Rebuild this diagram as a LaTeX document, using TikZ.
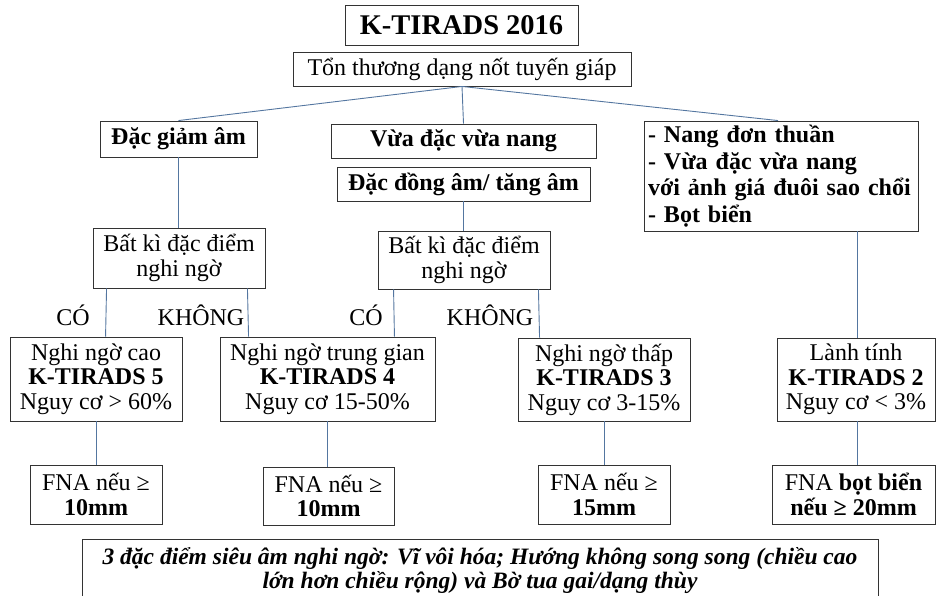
\documentclass[tikz,border=0pt]{standalone}
\usepackage{fontspec}
\setmainfont{Liberation Serif}
\usetikzlibrary{positioning}
\definecolor{linkblue}{RGB}{84,118,160}
\begin{document}
\begin{tikzpicture}[x=1pt,y=-1pt,
  box/.style={draw=black!80,line width=0.9pt,align=center,inner sep=2pt,font=\fontsize{24}{24.5}\selectfont},
  boldbox/.style={box,font=\fontsize{24}{26.5}\selectfont\bfseries},
  link/.style={draw=linkblue,line width=0.9pt},
  tag/.style={inner sep=0pt,font=\fontsize{24}{24}\selectfont}]
\useasboundingbox (0,0) rectangle (936,596);
\node[box,minimum width=233,minimum height=40,font=\fontsize{28.5}{30}\selectfont\bfseries] (title) at (461.5,25) {K-TIRADS 2016};
\node[box,minimum width=338,minimum height=34] (lesion) at (462,69) {Tổn thương dạng nốt tuyến giáp};
\node[boldbox,minimum width=157,minimum height=36] (hypo) at (178.5,139) {Đặc giảm âm};
\node[boldbox,minimum width=265,minimum height=34] (mixed) at (463.5,141) {Vừa đặc vừa nang};
\node[boldbox,minimum width=253,minimum height=34] (iso) at (463.5,184) {Đặc đồng âm/ tăng âm};
\node[boldbox,align=left,text width=266,inner xsep=4pt,minimum height=110] (cyst) at (781,176) {- Nang đơn thuần\\- Vừa đặc vừa nang\\với ảnh giá đuôi sao chổi\\- Bọt biển};
\node[box,minimum width=172,minimum height=60] (suspL) at (179,258) {Bất kì đặc điểm\\nghi ngờ};
\node[box,minimum width=172,minimum height=58] (suspR) at (464,260) {Bất kì đặc điểm\\nghi ngờ};
\node[tag] (yesL) at (73,315) {CÓ};
\node[tag] (noL) at (201,315) {KHÔNG};
\node[tag] (yesR) at (366,315) {CÓ};
\node[tag] (noR) at (490,315) {KHÔNG};
\node[box,minimum width=172,minimum height=84] (kt5) at (96,379) {Nghi ngờ cao\\\textbf{K-TIRADS 5}\\Nguy cơ > 60\%};
\node[box,minimum width=215,minimum height=84] (kt4) at (327.5,379) {Nghi ngờ trung gian\\\textbf{K-TIRADS 4}\\Nguy cơ 15-50\%};
\node[box,minimum width=172,minimum height=83] (kt3) at (604,379.5) {Nghi ngờ thấp\\\textbf{K-TIRADS 3}\\Nguy cơ 3-15\%};
\node[box,minimum width=158,minimum height=83] (kt2) at (856,379.5) {Lành tính\\\textbf{K-TIRADS 2}\\Nguy cơ < 3\%};
\node[box,minimum width=132,minimum height=59] (fna5) at (96,494.5) {FNA nếu ≥\\\textbf{10mm}};
\node[box,minimum width=131,minimum height=58] (fna4) at (328.5,496) {FNA nếu ≥\\\textbf{10mm}};
\node[box,minimum width=132,minimum height=59] (fna3) at (604,494.5) {FNA nếu ≥\\\textbf{15mm}};
\node[box,minimum width=163,minimum height=59] (fna2) at (853.5,494.5) {FNA \textbf{bọt biển}\\\textbf{nếu ≥ 20mm}};
\node[box,minimum width=796,minimum height=62,font=\fontsize{23.5}{24.5}\selectfont\bfseries\itshape] (note) at (480,570.5) {3 đặc điểm siêu âm nghi ngờ: Vĩ vôi hóa; Hướng không song song (chiều cao\\lớn hơn chiều rộng) và Bờ tua gai/dạng thùy};
\draw[link] (lesion.south) -- (hypo.north);
\draw[link] (lesion.south) -- (mixed.north);
\draw[link] (lesion.south) -- ([xshift=-3pt]cyst.north);
\draw[link] (hypo.south) -- (hypo.south |- suspL.north);
\draw[link] (iso.south) -- (iso.south |- suspR.north);
\draw[link] ([xshift=14pt]suspL.south west) -- ([xshift=96pt]kt5.north west);
\draw[link] ([xshift=-18pt]suspL.south east) -- ([xshift=29pt]kt4.north west);
\draw[link] ([xshift=16pt]suspR.south west) -- ([xshift=-41pt]kt4.north east);
\draw[link] ([xshift=-12pt]suspR.south east) -- ([xshift=22pt]kt3.north west);
\draw[link] ([xshift=76pt]cyst.south) -- ([xshift=76pt]cyst.south |- kt2.north);
\draw[link] (kt5.south) -- (kt5.south |- fna5.north);
\draw[link] (kt4.south) -- (kt4.south |- fna4.north);
\draw[link] (kt3.south) -- (kt3.south |- fna3.north);
\draw[link] ([xshift=1pt]kt2.south) -- ([xshift=1pt]kt2.south |- fna2.north);
\end{tikzpicture}
\end{document}
